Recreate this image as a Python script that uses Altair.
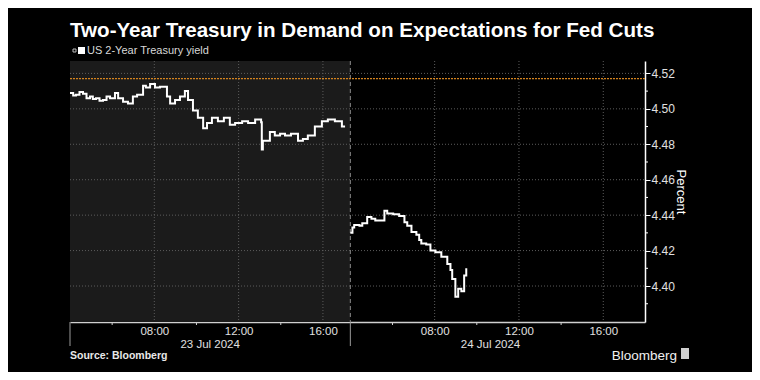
import altair as alt
import pandas as pd

# ---------------- data ----------------
day_labels = ["23 Jul 2024", "24 Jul 2024"]

day1_times = ["04:00", "04:09", "04:17", "04:27", "04:37", "04:47", "04:57", "05:05", "05:14", "05:24",
              "05:34", "05:44", "05:54", "06:08", "06:17", "06:31",
              "06:45", "06:59", "07:11", "07:28", "07:36", "07:48", "08:02", "08:16", "08:36", "08:45",
              "08:59", "09:13", "09:27", "09:36", "09:50", "10:04", "10:19", "10:30", "10:44", "11:01",
              "11:18", "11:35", "11:50", "12:10", "12:27", "12:47", "13:04", "13:06", "13:09", "13:29",
              "13:43", "13:58", "14:12", "14:29", "14:49", "15:03", "15:17", "15:37", "15:57", "16:14",
              "16:34", "16:54", "17:03"]
day1_vals = [4.509, 4.5075, 4.508, 4.5095, 4.5085, 4.506, 4.507, 4.5055, 4.506, 4.5045,
             4.505, 4.507, 4.506, 4.509, 4.506, 4.504,
             4.503, 4.507, 4.508, 4.513, 4.512, 4.514, 4.512, 4.5125, 4.507, 4.503,
             4.505, 4.507, 4.510, 4.505, 4.499, 4.495, 4.489, 4.492, 4.495, 4.493,
             4.495, 4.491, 4.492, 4.493, 4.492, 4.494, 4.4925, 4.477, 4.482, 4.487,
             4.485, 4.486, 4.485, 4.486, 4.482, 4.483, 4.485, 4.490, 4.493, 4.494,
             4.493, 4.490, 4.490]

day2_times = ["04:00", "04:06", "04:11", "04:26", "04:34", "04:48", "05:00", "05:11", "05:37", "05:45",
              "06:02", "06:19", "06:34", "06:42", "06:54", "07:08", "07:16", "07:22", "07:36", "07:48",
              "08:02", "08:19", "08:36", "08:45", "08:50", "08:59", "09:07", "09:16", "09:24", "09:30"]
day2_vals = [4.430, 4.433, 4.4345, 4.434, 4.4355, 4.439, 4.438, 4.437, 4.4425, 4.441,
             4.4405, 4.4395, 4.436, 4.434, 4.4305, 4.429, 4.426, 4.424, 4.4235, 4.420,
             4.419, 4.4165, 4.4125, 4.409, 4.404, 4.394, 4.3985, 4.397, 4.406, 4.410]

ref_level = [4.517]                      # orange reference line
y_ticks = [4.40, 4.42, 4.44, 4.46, 4.48, 4.50, 4.52]
y_minor = [4.39, 4.41, 4.43, 4.45, 4.47, 4.49, 4.51]
x_label_hours = [8, 12, 16]
x_minor_hours = [6, 10, 14]

session_start = 4.0     # each trading session drawn from 04:00
session_len = 13.3      # hours shown per day
x_max = 27.28
y_min, y_max = 4.3797, 4.527

W, H = 575, 261

# ---------------- tables ----------------
def to_hours(s):
    h, m = s.split(":")
    return int(h) + int(m) / 60.0

rows = []
for d, (times, vals) in enumerate([(day1_times, day1_vals), (day2_times, day2_vals)]):
    for tm, v in zip(times, vals):
        rows.append({"t": d * session_len + to_hours(tm) - session_start, "v": v, "day": day_labels[d]})
line_df = pd.DataFrame(rows)

xt = [d * session_len + h - session_start for d in range(2) for h in x_label_hours]
xm = [d * session_len + h - session_start for d in range(2) for h in x_minor_hours]
grid_x_df = pd.DataFrame({"t": xt})
minor_x_df = pd.DataFrame({"t": xm})
grid_y_df = pd.DataFrame({"v": y_ticks})
minor_y_df = pd.DataFrame({"v": y_minor})
ref_df = pd.DataFrame({"v": ref_level})
shade_df = pd.DataFrame({"t": [0.0], "b": [session_len]})
bound_df = pd.DataFrame({"t": [session_len]})
sep_df = pd.DataFrame({"t": [0.0, session_len]})
date_df = pd.DataFrame({"t": [session_len / 2, session_len * 1.5], "lab": day_labels})
one = pd.DataFrame({"a": [0]})

FONT = "Liberation Sans"
xs = alt.Scale(domain=[0, x_max], nice=False, zero=False)
ys = alt.Scale(domain=[y_min, y_max], nice=False, zero=False)
XAX = alt.Axis(
    values=xt, grid=False, ticks=False, domain=True, domainColor="#d0d0d0", domainWidth=1.5,
    labelExpr="format(round((datum.value % 13.3) + 4), '02d') + ':00'",
    labelColor="#e0e0e0", labelFontSize=11.5, labelFont=FONT, labelPadding=3, title=None)
YAX = alt.Axis(
    orient="right", values=y_ticks, format=".2f", grid=False,
    domainColor="white", domainWidth=1.5, tickColor="white", tickSize=5, labelPadding=1,
    labelColor="#e0e0e0", labelFontSize=12, labelFont=FONT,
    title="Percent", titleColor="white", titleFont=FONT, titleFontSize=13,
    titleFontWeight="normal", titleAngle=90, titlePadding=-1)


def X(field):
    return alt.X(field, scale=xs, axis=XAX)


def Y(field):
    return alt.Y(field, scale=ys, axis=YAX)


shade = alt.Chart(shade_df).mark_rect(color="#1b1b1b").encode(
    x=X("t:Q"), x2="b:Q", y=alt.value(0), y2=alt.value(H))

gx = alt.Chart(grid_x_df).mark_rule(color="#5c5c5c", strokeDash=[1, 2], strokeWidth=1).encode(
    x=X("t:Q"), y=alt.value(0), y2=alt.value(H))
gy = alt.Chart(grid_y_df).mark_rule(color="#5c5c5c", strokeDash=[1, 2], strokeWidth=1).encode(
    y=Y("v:Q"), x=alt.value(0), x2=alt.value(W))

bound = alt.Chart(bound_df).mark_rule(color="#8a8a8a", strokeDash=[4, 3], strokeWidth=1).encode(
    x=X("t:Q"), y=alt.value(0), y2=alt.value(H))
sep = alt.Chart(sep_df).mark_rule(color="#9a9a9a", strokeWidth=1).encode(
    x=X("t:Q"), y=alt.value(H), y2=alt.value(H + 24))

ref = alt.Chart(ref_df).mark_rule(color="#d4831f", strokeDash=[2, 1], strokeWidth=1.3).encode(
    y=Y("v:Q"), x=alt.value(0), x2=alt.value(W))

line = alt.Chart(line_df).mark_line(color="white", strokeWidth=2, interpolate="step-after").encode(
    x=X("t:Q"), y=Y("v:Q"), detail="day:N")

mx = alt.Chart(minor_x_df).mark_rule(color="#d0d0d0", strokeWidth=1).encode(
    x=X("t:Q"), y=alt.value(H), y2=alt.value(H + 3))
my = alt.Chart(minor_y_df).mark_rule(color="white", strokeWidth=1).encode(
    y=Y("v:Q"), x=alt.value(W), x2=alt.value(W + 3))

dates = alt.Chart(date_df).mark_text(color="#e0e0e0", fontSize=11.5, font=FONT, baseline="middle").encode(
    x=X("t:Q"), y=alt.value(H + 22.5), text="lab:N")

title = alt.Chart(one).mark_text(
    text="Two-Year Treasury in Demand on Expectations for Fed Cuts", align="left", baseline="alphabetic",
    fontSize=20.6, fontWeight="bold", font=FONT, color="white").encode(x=alt.value(0), y=alt.value(-24))
leg_icon0 = alt.Chart(one).mark_rect(stroke="#bbbbbb", strokeWidth=1, fill="#000000").encode(
    x=alt.value(3), x2=alt.value(6), y=alt.value(-12), y2=alt.value(-9))
leg_icon1 = alt.Chart(one).mark_rect(color="white").encode(
    x=alt.value(8), x2=alt.value(15), y=alt.value(-14), y2=alt.value(-7))
leg_text = alt.Chart(one).mark_text(
    text="US 2-Year Treasury yield", align="left", baseline="middle",
    fontSize=11, font=FONT, color="#d8d8d8").encode(x=alt.value(17), y=alt.value(-10))
source = alt.Chart(one).mark_text(
    text="Source: Bloomberg", align="left", baseline="alphabetic",
    fontSize=10.5, fontWeight="bold", font=FONT, color="#e8e8e8").encode(x=alt.value(0), y=alt.value(298))
brand = alt.Chart(one).mark_text(
    text="Bloomberg", align="right", baseline="alphabetic",
    fontSize=13.5, font=FONT, color="#f0f0f0").encode(x=alt.value(607), y=alt.value(299))
brand_icon = alt.Chart(one).mark_rect(color="#cfcfcf").encode(
    x=alt.value(611), x2=alt.value(619), y=alt.value(287), y2=alt.value(298))

chart = alt.layer(
    shade, gx, gy, bound, sep, ref, line, mx, my, dates,
    title, leg_icon0, leg_icon1, leg_text, source, brand, brand_icon
).properties(
    width=W, height=H,
    autosize=alt.AutoSizeParams(type="none"),
    padding={"left": 62, "top": 53, "right": 107, "bottom": 50},
    background="#000000",
).configure_view(stroke=None)

chart.save("out.html", embed_options={"renderer": "svg", "actions": False})
